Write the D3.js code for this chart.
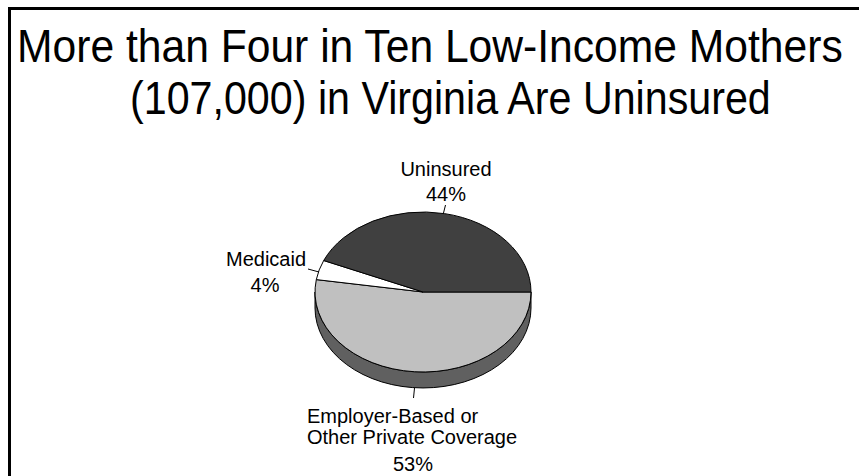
<!DOCTYPE html>
<html>
<head>
<meta charset="utf-8">
<script src="https://cdn.jsdelivr.net/npm/d3@7"></script>
<style>
  html, body { margin: 0; padding: 0; background: #fff; }
  svg { display: block; font-family: "Liberation Sans", Arial, sans-serif; }
</style>
</head>
<body>
<svg id="chart" width="859" height="476"></svg>
<script>
// Insurance coverage of low-income mothers, Virginia (percent)
const categories = ["Employer-Based or Other Private Coverage", "Medicaid", "Uninsured"];
const values = [53, 4, 44];
const labelLines = [["Employer-Based or", "Other Private Coverage"], ["Medicaid"], ["Uninsured"]];
const valueLabels = ["53%", "4%", "44%"];
const topColors = ["#c0c0c0", "#ffffff", "#404040"];
const sideColors = ["#606060", "#a0a0a0", "#202020"];
const titleLines = ["More than Four in Ten Low-Income Mothers", "(107,000) in Virginia Are Uninsured"];

const svg = d3.select("#chart");
const W = 859, H = 476;

// frame (top and left edges)
svg.append("path")
  .attr("d", `M9.5,${H} V8.5 H${W}`)
  .attr("fill", "none").attr("stroke", "#000").attr("stroke-width", 3);

// title, set slightly condensed: each line is fitted to its width and stretched a little vertically
const titleSpecs = [
  { x: 17, y: 62, width: 826 },
  { x: 130, y: 114, width: 641 }
];
titleLines.forEach((line, i) => {
  const s = titleSpecs[i];
  const g = svg.append("g");
  const t = g.append("text").attr("font-size", 42).attr("fill", "#000").text(line);
  const natural = t.node().getComputedTextLength();
  g.attr("transform", `translate(${s.x},${s.y}) scale(${s.width / natural},1.08)`);
});

// pie geometry
const cx = 423, cy = 292, rx = 108, ry = 80, depth = 16;

// screen angle (clockwise from 3 o'clock) from d3 angle (clockwise from 12 o'clock)
const scr = a => a - Math.PI / 2;
const px = a => cx + rx * Math.cos(scr(a));
const py = a => cy + ry * Math.sin(scr(a));

const pie = d3.pie().sort(null).value(d => d)
  .startAngle(Math.PI / 2).endAngle(Math.PI / 2 + 2 * Math.PI);
const arcs = pie(values);

// side walls: only the front half (screen angle 0..180deg, i.e. d3 angle PI/2..3PI/2)
const sides = svg.append("g");
arcs.forEach((d, i) => {
  const a0 = Math.max(d.startAngle, Math.PI / 2);
  const a1 = Math.min(d.endAngle, 3 * Math.PI / 2);
  if (a1 <= a0) return;
  const large = (a1 - a0) > Math.PI ? 1 : 0;
  const p = `M${px(a0)},${py(a0)} A${rx},${ry} 0 ${large} 1 ${px(a1)},${py(a1)}` +
            ` L${px(a1)},${py(a1) + depth} A${rx},${ry} 0 ${large} 0 ${px(a0)},${py(a0) + depth} Z`;
  sides.append("path").attr("d", p)
    .attr("fill", sideColors[i]).attr("stroke", "#000").attr("stroke-width", 1)
    .attr("stroke-linejoin", "round");
});

// top faces, drawn as circular arcs squashed into an ellipse
const arcGen = d3.arc().innerRadius(0).outerRadius(rx);
const faces = svg.append("g").attr("transform", `translate(${cx},${cy}) scale(1,${ry / rx})`);
faces.selectAll("path").data(arcs).join("path")
  .attr("d", arcGen)
  .attr("fill", (d, i) => topColors[i])
  .attr("stroke", "#000").attr("stroke-width", 1)
  .attr("vector-effect", "non-scaling-stroke")
  .attr("stroke-linejoin", "round");

// labels and leader lines
const lab = svg.append("g").attr("font-size", 20).attr("fill", "#000");
const leader = (x1, y1, x2, y2) => svg.append("line")
  .attr("x1", x1).attr("y1", y1).attr("x2", x2).attr("y2", y2)
  .attr("stroke", "#000").attr("stroke-width", 1);

// Uninsured
lab.append("text").attr("x", 446).attr("y", 176).attr("text-anchor", "middle").text(labelLines[2][0]);
lab.append("text").attr("x", 446).attr("y", 201).attr("text-anchor", "middle").text(valueLabels[2]);
leader(445.5, 205, 443.5, 213);

// Medicaid
lab.append("text").attr("x", 266).attr("y", 266).attr("text-anchor", "middle").text(labelLines[1][0]);
lab.append("text").attr("x", 265).attr("y", 292).attr("text-anchor", "middle").text(valueLabels[1]);
leader(308, 269, 319, 272);

// Employer-based
lab.append("text").attr("x", 307).attr("y", 423).text(labelLines[0][0]);
lab.append("text").attr("x", 307).attr("y", 444).text(labelLines[0][1]);
lab.append("text").attr("x", 413).attr("y", 471).attr("text-anchor", "middle").text(valueLabels[0]);
leader(414.5, 388, 413.5, 398);
</script>
</body>
</html>
